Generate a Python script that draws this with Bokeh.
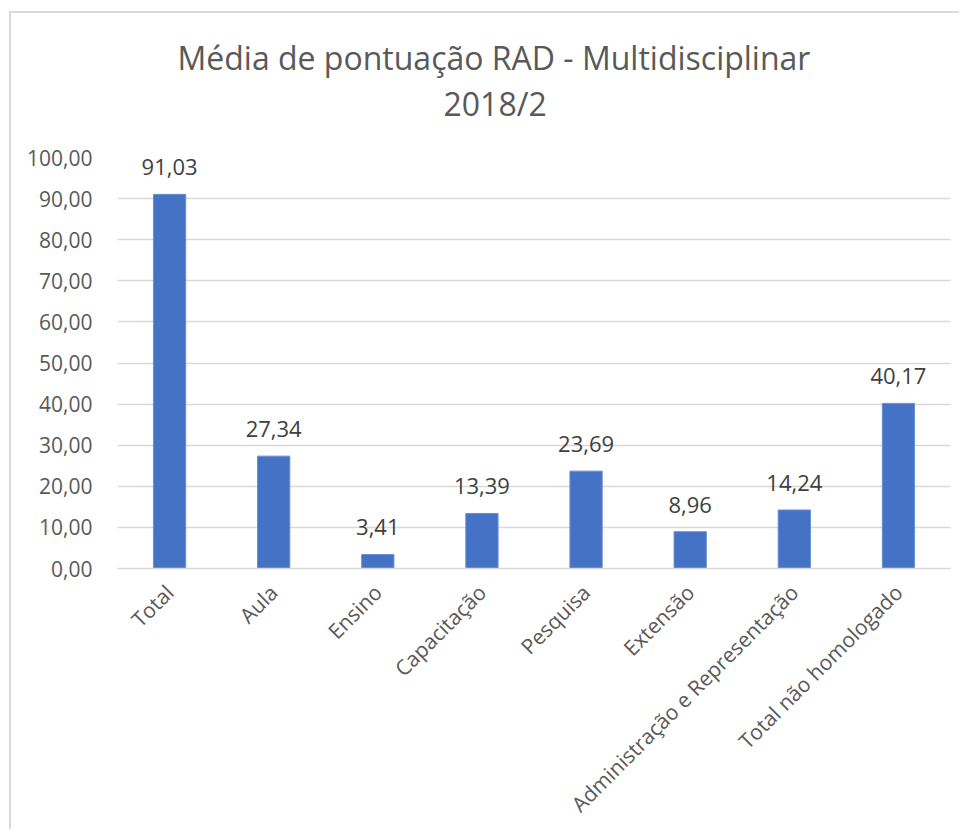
from math import pi
from bokeh.plotting import figure
from bokeh.models import ColumnDataSource, Title, Range1d, FixedTicker, CustomJSTickFormatter
from bokeh.embed import file_html
from bokeh.resources import INLINE
from bokeh.core.properties import value

# ---- data ----
categories = ["Total", "Aula", "Ensino", "Capacitação", "Pesquisa", "Extensão",
              "Administração e Representação", "Total não homologado"]
values = [91.03, 27.34, 3.41, 13.39, 23.69, 8.96, 14.24, 40.17]
value_labels = [f"{v:.2f}".replace(".", ",") for v in values]
y_ticks = [0, 10, 20, 30, 40, 50, 60, 70, 80, 90, 100]
title_lines = ["Média de pontuação RAD - Multidisciplinar", "2018/2"]

FONT = "Open Sans"
TEXT = "#595959"
GRID = "#D9D9D9"
BAR = "#4472C4"

source = ColumnDataSource(dict(cat=categories, val=values, lbl=value_labels))

p = figure(width=950, height=818, x_range=categories, y_range=Range1d(0, 100),
           output_backend="svg", toolbar_location=None,
           min_border_left=106, min_border_right=11, min_border_top=144, min_border_bottom=263,
           styles={"margin-left": "9px", "margin-top": "11px",
                   "border-left": "2px solid #D9D9D9", "border-top": "2px solid #D9D9D9"})
p.outline_line_color = None
p.background_fill_color = "white"
p.border_fill_color = "white"

p.vbar(x="cat", top="val", width=0.31, source=source,
       fill_color=BAR, line_color="#6A8FD6", line_width=1)

p.text(x="cat", y="val", text="lbl", source=source,
       text_align="center", text_baseline="alphabetic", y_offset=-27,
       text_font=value(FONT), text_font_size="22px", text_color="#404040")

# grid
p.xgrid.grid_line_color = None
p.ygrid.grid_line_color = GRID
p.ygrid.grid_line_width = 1.5

# y axis
p.yaxis.ticker = FixedTicker(ticks=y_ticks)
p.yaxis.formatter = CustomJSTickFormatter(code="return tick.toFixed(2).replace('.', ',');")
p.yaxis.axis_line_color = None
p.yaxis.major_tick_line_color = None
p.yaxis.minor_tick_line_color = None
p.yaxis.major_label_standoff = 19
p.yaxis.major_label_text_font = FONT
p.yaxis.major_label_text_font_size = "21px"
p.yaxis.major_label_text_color = TEXT

# x axis
p.xaxis.axis_line_color = GRID
p.xaxis.axis_line_width = 1.5
p.xaxis.major_tick_line_color = None
p.xaxis.minor_tick_line_color = None
p.xaxis.major_label_orientation = pi / 4
p.xaxis.major_label_standoff = 14
p.xaxis.major_label_text_font = FONT
p.xaxis.major_label_text_font_size = "21px"
p.xaxis.major_label_text_color = TEXT

# title: spacer closest to the frame, then line 2, then line 1 (outermost)
p.add_layout(Title(text=" ", text_font_size="18px", text_color="white"), "above")
p.add_layout(Title(text=title_lines[1], align="left", offset=326, standoff=2, text_font=FONT,
                   text_font_size="32px", text_font_style="normal", text_color=TEXT), "above")
p.add_layout(Title(text=title_lines[0], align="left", offset=60, standoff=0, text_font=FONT,
                   text_font_size="32px", text_font_style="normal", text_color=TEXT), "above")

open("out.html", "w").write(file_html(p, INLINE))
